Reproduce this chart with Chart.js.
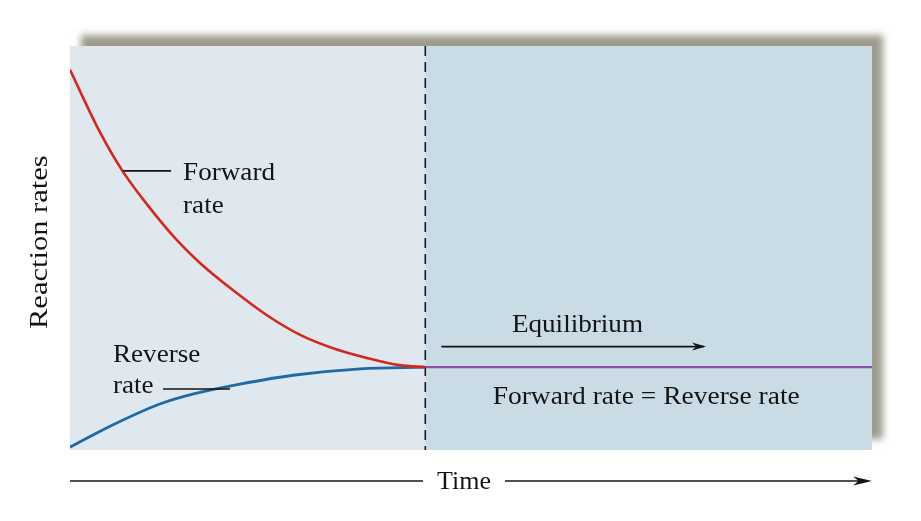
<!DOCTYPE html>
<html>
<head>
<meta charset="utf-8">
<script src="https://cdn.jsdelivr.net/npm/chart.js@4.4.1/dist/chart.umd.min.js"></script>
<style>
  html, body { margin: 0; padding: 0; background: #ffffff; }
  #wrap { width: 921px; height: 521px; }
  .fontprobe { font-family: "Liberation Serif"; position: absolute; left: -9999px; }
</style>
</head>
<body>
<span class="fontprobe">Forward rate</span>
<div id="wrap"><canvas id="c" width="921" height="521"></canvas></div>
<script>
// ---- Data (time in arbitrary units 0..100, rate in arbitrary units 0..100) ----
const equilibriumTime = 44.3;
const forwardTime = [0, 3.7, 6.6, 10.0, 13.3, 16.2, 20.3, 24.6, 28.7, 32.8, 37.0, 41.1, 44.3];
const forwardRate = [94.1, 78.8, 68.9, 59.8, 52.0, 46.3, 39.6, 33.3, 28.5, 25.2, 22.8, 21.0, 20.5];
const reverseTime = [0, 5.0, 11.2, 15.4, 19.6, 27.8, 36.2, 44.3];
const reverseRate = [0.7, 5.9, 11.4, 13.9, 15.7, 18.5, 20.1, 20.5];
const equilibriumTimeSpan = [44.3, 100];
const equilibriumRate = [20.5, 20.5];

const labels = {
  forward: ["Forward", "rate"],
  reverse: ["Reverse", "rate"],
  equilibrium: "Equilibrium",
  equality: "Forward rate = Reverse rate",
  xTitle: "Time",
  yTitle: "Reaction rates"
};

const toPts = (xs, ys) => xs.map((x, i) => ({ x: x, y: ys[i] }));

const FONT = '25px "Liberation Serif", "Times New Roman", Times, serif';
const INK = '#141414';

function drawText(ctx, text, x, y, sx) {
  ctx.save();
  ctx.translate(x, y);
  ctx.scale(sx || 1.085, 1);
  ctx.font = FONT;
  ctx.fillStyle = INK;
  ctx.textBaseline = 'alphabetic';
  ctx.textAlign = 'left';
  ctx.fillText(text, 0, 0);
  ctx.restore();
}

function line(ctx, x1, y1, x2, y2, w) {
  ctx.save();
  ctx.strokeStyle = INK;
  ctx.lineWidth = w || 1.6;
  ctx.beginPath();
  ctx.moveTo(x1, y1);
  ctx.lineTo(x2, y2);
  ctx.stroke();
  ctx.restore();
}

function arrowHead(ctx, x, y, len, half) {
  ctx.save();
  ctx.fillStyle = INK;
  ctx.beginPath();
  ctx.moveTo(x, y);
  ctx.lineTo(x - len, y - half);
  ctx.lineTo(x - len * 0.7, y);
  ctx.lineTo(x - len, y + half);
  ctx.closePath();
  ctx.fill();
  ctx.restore();
}

const backdrop = {
  id: 'backdrop',
  beforeDatasetsDraw(chart) {
    const { ctx, chartArea: a, scales: { x } } = chart;
    const xe = x.getPixelForValue(equilibriumTime);
    // drop shadow offset to the upper right
    ctx.save();
    ctx.shadowColor = 'rgba(120,116,98,0.72)';
    ctx.shadowBlur = 7;
    ctx.shadowOffsetX = 11;
    ctx.shadowOffsetY = -11;
    ctx.fillStyle = '#dfe8ef';
    ctx.fillRect(a.left, a.top, a.right - a.left, a.bottom - a.top);
    ctx.restore();
    // two phases
    ctx.fillStyle = '#dfe8ef';
    ctx.fillRect(a.left, a.top, xe - a.left, a.bottom - a.top);
    ctx.fillStyle = '#c9dbe4';
    ctx.fillRect(xe, a.top, a.right - xe, a.bottom - a.top);
    // dashed boundary
    ctx.save();
    ctx.strokeStyle = '#1b1b1b';
    ctx.lineWidth = 1.6;
    ctx.setLineDash([10, 6]);
    ctx.beginPath();
    ctx.moveTo(xe, a.top);
    ctx.lineTo(xe, a.bottom);
    ctx.stroke();
    ctx.restore();
  },
  afterDraw(chart) {
    const { ctx, chartArea: a, scales: { x, y } } = chart;
    const px = v => x.getPixelForValue(v);
    const py = v => y.getPixelForValue(v);
    // Forward rate label + leader
    line(ctx, px(6.6), py(69.1), px(12.6), py(69.1));
    drawText(ctx, labels.forward[0], px(14.1), py(66.8));
    drawText(ctx, labels.forward[1], px(14.1), py(58.7));
    // Reverse rate label + leader
    drawText(ctx, labels.reverse[0], px(5.36), py(21.8));
    drawText(ctx, labels.reverse[1], px(5.36), py(14.1));
    line(ctx, px(11.6), py(15.1), px(19.95), py(15.1));
    // Equilibrium arrow
    drawText(ctx, labels.equilibrium, px(55.1), py(29.2));
    line(ctx, px(46.3), py(25.6), px(79.0), py(25.6));
    arrowHead(ctx, px(79.3), py(25.6), 14, 4);
    drawText(ctx, labels.equality, px(52.7), py(11.4), 1.10);
    // Time axis arrow below the panel
    const ty = a.bottom + 31;
    line(ctx, a.left, ty, 423, ty);
    line(ctx, 505, ty, a.right - 6, ty);
    arrowHead(ctx, a.right, ty, 19, 4.5);
    drawText(ctx, labels.xTitle, 437, a.bottom + 39, 1.04);
    // Vertical axis title
    ctx.save();
    ctx.translate(47, 329);
    ctx.rotate(-Math.PI / 2);
    drawText(ctx, labels.yTitle, 0, 0, 1.22);
    ctx.restore();
  }
};

function build() {
  new Chart(document.getElementById('c'), {
    type: 'line',
    data: {
      datasets: [
        {
          label: 'Forward rate',
          data: toPts(forwardTime, forwardRate),
          borderColor: '#d5281c',
          borderWidth: 2.6,
          pointRadius: 0,
          cubicInterpolationMode: 'monotone',
          fill: false
        },
        {
          label: 'Reverse rate',
          data: toPts(reverseTime, reverseRate),
          borderColor: '#1d6aa5',
          borderWidth: 2.8,
          pointRadius: 0,
          cubicInterpolationMode: 'monotone',
          fill: false
        },
        {
          label: 'Equilibrium',
          data: toPts(equilibriumTimeSpan, equilibriumRate),
          borderColor: '#8a4ea6',
          borderWidth: 2.2,
          pointRadius: 0,
          fill: false
        }
      ]
    },
    options: {
      responsive: false,
      animation: false,
      layout: { padding: { left: 70, right: 49, top: 46, bottom: 71 } },
      plugins: { legend: { display: false }, tooltip: { enabled: false } },
      scales: {
        x: { type: 'linear', min: 0, max: 100, display: false },
        y: { type: 'linear', min: 0, max: 100, display: false }
      }
    },
    plugins: [backdrop]
  });
}

if (document.fonts && document.fonts.load) {
  document.fonts.load('25px "Liberation Serif"').then(build, build);
} else {
  build();
}
</script>
</body>
</html>
